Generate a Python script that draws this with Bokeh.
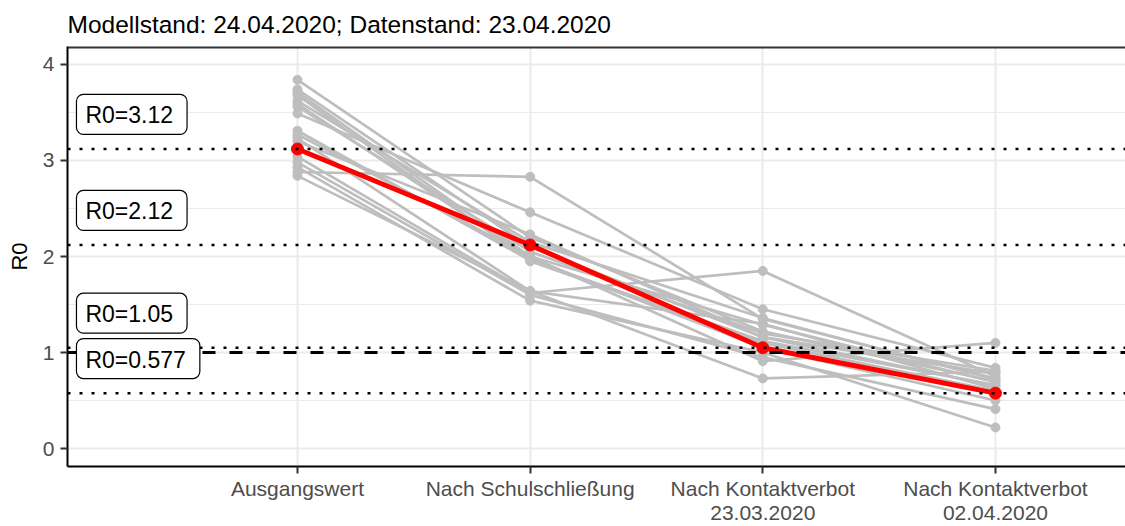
from bokeh.plotting import figure
from bokeh.models import (Range1d, FixedTicker, Span, Label)
from bokeh.embed import file_html
from bokeh.resources import INLINE

# ---------------- data ----------------
categories = ["Ausgangswert", "Nach Schulschließung",
              "Nach Kontaktverbot\n23.03.2020", "Nach Kontaktverbot\n02.04.2020"]

# grey scenario lines: one value per scenario for each stage
ausgang   = [3.84, 3.74, 3.71, 3.68, 3.62, 3.59, 3.56, 3.49, 3.31, 3.27, 3.23, 3.04, 2.98, 2.93, 2.88, 2.84, 3.20]
schul     = [2.20, 2.10, 2.00, 1.95, 2.15, 1.98, 2.05, 2.46, 1.96, 2.00, 1.64, 1.62, 1.60, 1.54, 2.83, 1.64, 2.23]
kontakt1  = [1.22, 1.16, 1.29, 1.10, 1.36, 1.05, 1.20, 1.45, 1.12, 0.91, 1.30, 1.85, 0.95, 1.00, 1.35, 0.73, 1.16]
kontakt2  = [0.70, 0.78, 0.69, 0.60, 0.72, 0.50, 0.81, 0.84, 0.66, 1.10, 0.62, 0.75, 0.41, 0.22, 0.73, 0.80, 0.65]

# red estimated line
r0_values = [3.12, 2.12, 1.05, 0.577]
r0_labels = ["R0=3.12", "R0=2.12", "R0=1.05", "R0=0.577"]

y_ticks = [0, 1, 2, 3, 4]
threshold = 1.0

title_text = "Modellstand: 24.04.2020; Datenstand: 23.04.2020"

# ---------------- figure ----------------
xs = list(range(1, len(categories) + 1))

p = figure(width=1125, height=526, output_backend="svg", toolbar_location=None,
           x_range=Range1d(0.0115, 4.559), y_range=Range1d(-0.187, 4.187),
           min_border_left=67, min_border_right=0, min_border_top=46, min_border_bottom=58)

p.title.text = title_text
p.title.text_font = "Liberation Sans"
p.title.text_font_size = "24.5px"
p.title.text_font_style = "normal"
p.title.text_color = "black"
p.title.offset = 0
p.title.standoff = 14
p.title.vertical_align = "top"

p.outline_line_color = None
p.background_fill_color = "white"
p.border_fill_color = "white"

# grid
p.xgrid.ticker = FixedTicker(ticks=xs)
p.xgrid.grid_line_color = "#ebebeb"
p.xgrid.grid_line_width = 2
p.ygrid.ticker = FixedTicker(ticks=y_ticks, minor_ticks=[-0.5, 0.5, 1.5, 2.5, 3.5])
p.ygrid.grid_line_color = "#ebebeb"
p.ygrid.grid_line_width = 2
p.ygrid.minor_grid_line_color = "#ebebeb"
p.ygrid.minor_grid_line_width = 1

# axes
p.xaxis.ticker = FixedTicker(ticks=xs)
p.xaxis.major_label_overrides = {x: c for x, c in zip(xs, categories)}
p.yaxis.ticker = FixedTicker(ticks=y_ticks)
for ax in (p.xaxis[0], p.yaxis[0]):
    ax.axis_line_color = "black"
    ax.axis_line_width = 2
    ax.major_tick_line_color = "#333333"
    ax.major_tick_line_width = 2
    ax.major_tick_in = 0
    ax.major_tick_out = 7
    ax.minor_tick_line_color = None
    ax.major_label_text_font = "Liberation Sans"
    ax.major_label_text_font_size = "21px"
    ax.major_label_text_color = "#4d4d4d"
p.xaxis.major_label_standoff = 3
p.xaxis.major_label_text_line_height = 1.05
p.yaxis.major_label_standoff = 6
p.yaxis.axis_label = "R0"
p.yaxis.axis_label_text_font = "Liberation Sans"
p.yaxis.axis_label_text_font_size = "22px"
p.yaxis.axis_label_text_font_style = "normal"
p.yaxis.axis_label_text_color = "black"
p.yaxis.axis_label_standoff = 8

# top border of panel
p.add_layout(Span(location=p.y_range.end, dimension="width", line_color="#333333", line_width=4))

# grey scenario lines
grey_rows = list(zip(ausgang, schul, kontakt1, kontakt2))
p.multi_line(xs=[xs] * len(grey_rows), ys=[list(r) for r in grey_rows],
             line_color="#bebebe", line_width=2.7)
gx = [x for r in grey_rows for x in xs]
gy = [v for r in grey_rows for v in r]
p.scatter(gx, gy, size=9, fill_color="#bebebe", line_color="#bebebe")

# horizontal reference lines
for v in r0_values:
    p.add_layout(Span(location=v, dimension="width", line_color="black",
                      line_width=2.5, line_dash="3 9"))
p.add_layout(Span(location=threshold, dimension="width", line_color="black",
                  line_width=3, line_dash="13 14"))

# red line
p.line(xs, r0_values, line_color="#ff0000", line_width=5)
p.scatter(xs, r0_values, size=12, fill_color="#ff0000", line_color="#ff0000")

# labels
for v, t in zip(r0_values, r0_labels):
    p.add_layout(Label(x=0.05, y=v + 0.36, text=t, text_align="left", text_baseline="middle",
                       text_font="Liberation Sans", text_font_size="23px", text_color="black",
                       background_fill_color="white", border_line_color="black",
                       border_line_width=1.2,
                       padding=dict(left=9, right=14, top=8, bottom=6),
                       border_radius=7))

open("out.html", "w").write(file_html(p, INLINE))
